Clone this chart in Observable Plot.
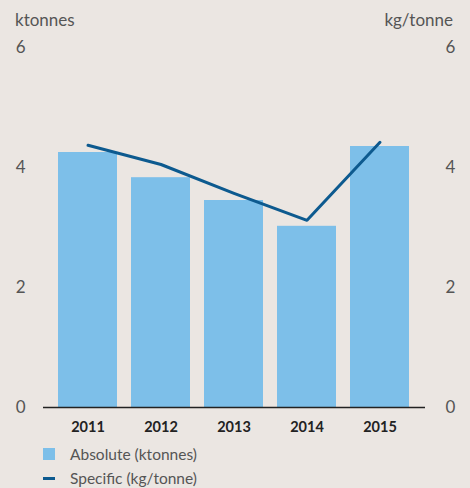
<!DOCTYPE html>
<html>
<head>
<meta charset="utf-8">
<script src="https://cdn.jsdelivr.net/npm/d3@7"></script>
<script src="https://cdn.jsdelivr.net/npm/@observablehq/plot@0.6"></script>
<style>
  html, body { margin: 0; padding: 0; background: #ebe6e2; }
  #chart { width: 470px; position: relative; font-family: Lato, sans-serif; }
  .title { position: absolute; top: 9px; font-size: 17px; color: #555; font-weight: 400; }
  .legend { margin-top: 2px; font-size: 15.5px; color: #555; }
  .legend-item { display: flex; align-items: center; height: 24px; padding-left: 43px; }
  .sw { width: 12px; margin-right: 15px; }
</style>
</head>
<body>
<div id="chart"></div>
<script>
const years = ["2011", "2012", "2013", "2014", "2015"];
const absolute = [4.25, 3.83, 3.45, 3.02, 4.35];
const specific = [4.37, 4.05, 3.57, 3.12, 4.42];
const yTicks = [0, 2, 4, 6];
const leftTitle = "ktonnes";
const rightTitle = "kg/tonne";
const absLabel = "Absolute (ktonnes)";
const specLabel = "Specific (kg/tonne)";

const barColor = "#7dbfe9";
const lineColor = "#0d5a8f";

const data = years.map((y, i) => ({year: y, absolute: absolute[i], specific: specific[i]}));
const fmt = d3.format("d");

const plot = Plot.plot({
  width: 470,
  height: 440,
  marginLeft: 43,
  marginRight: 45,
  marginTop: 47,
  marginBottom: 33,
  style: {background: "transparent", fontFamily: "Lato, sans-serif"},
  x: {type: "band", domain: years, padding: 0.185, label: null},
  y: {domain: [0, 6], label: null},
  marks: [
    Plot.barY(data, {x: "year", y: "absolute", fill: barColor}),
    Plot.ruleY([0], {stroke: "#222", strokeWidth: 1.5}),
    Plot.lineY(data, {x: "year", y: "specific", stroke: lineColor, strokeWidth: 3}),
    Plot.axisX({tickSize: 0, tickPadding: 14, fontSize: 14.5, fontWeight: "bold", fill: "#222", label: null}),
    Plot.axisY({anchor: "left", ticks: yTicks, tickFormat: fmt, tickSize: 0, tickPadding: 18, fontSize: 17, fill: "#555", label: null}),
    Plot.axisY({anchor: "right", ticks: yTicks, tickFormat: fmt, tickSize: 0, tickPadding: 20, fontSize: 17, fill: "#555", label: null})
  ]
});

const chart = document.getElementById("chart");
const lt = document.createElement("div");
lt.className = "title"; lt.style.left = "15px"; lt.textContent = leftTitle;
const rt = document.createElement("div");
rt.className = "title"; rt.style.right = "17px"; rt.textContent = rightTitle;
chart.appendChild(plot);
chart.appendChild(lt);
chart.appendChild(rt);

const legend = document.createElement("div");
legend.className = "legend";
legend.innerHTML = `
  <div class="legend-item"><span class="sw" style="height:12px;background:${barColor}"></span>${absLabel}</div>
  <div class="legend-item"><span class="sw" style="height:3px;background:${lineColor}"></span>${specLabel}</div>`;
chart.appendChild(legend);
</script>
</body>
</html>
